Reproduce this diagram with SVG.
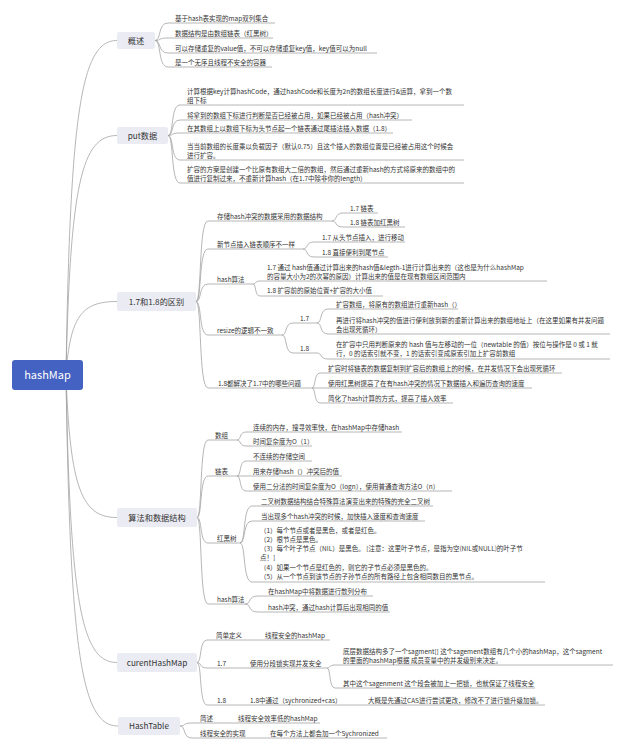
<svg xmlns="http://www.w3.org/2000/svg" width="640" height="751" viewBox="0 0 640 751">
<style>
.c{fill:none;stroke:#a3a3a3;stroke-width:0.8}
.u{stroke:#a3a3a3;stroke-width:0.8}
.t{font-family:"Noto Sans CJK SC","Noto Sans",sans-serif;font-size:6.5px;fill:#333}
.l1b{fill:#ebecf3}
.l1{font-family:"Noto Sans CJK SC","Noto Sans",sans-serif;font-size:8.2px;fill:#333;text-anchor:middle}
.rt{font-family:"Noto Sans CJK SC","Noto Sans",sans-serif;font-size:11px;fill:#fff;text-anchor:middle}
</style>
<rect width="640" height="751" fill="#fff"/>
<g id="connectors">
<path class="c" d="M66 375 C70 107 82 40.5 117 40.5"/>
<path class="c" d="M66 375 C70 183 82 135.5 117 135.5"/>
<path class="c" d="M66 375 C70 316 82 301.5 117 301.5"/>
<path class="c" d="M66 375 C70 489 82 517.5 117 517.5"/>
<path class="c" d="M66 375 C70 605 82 662.5 117 662.5"/>
<path class="c" d="M66 375 C70 656 82 726 118 726"/>
<path class="c" d="M155 40.5 C161.5 40.5 157.6 23 168 23"/>
<path class="c" d="M155 40.5 C161.5 40.5 157.6 38 168 38"/>
<path class="c" d="M155 40.5 C161.5 40.5 157.6 53 168 53"/>
<path class="c" d="M155 40.5 C161.5 40.5 157.6 67 168 67"/>
<path class="c" d="M168 135.5 C174 135.5 170.4 105 180 105"/>
<path class="c" d="M168 135.5 C174 135.5 170.4 120 180 120"/>
<path class="c" d="M168 135.5 C174 135.5 170.4 133 180 133"/>
<path class="c" d="M168 135.5 C174 135.5 170.4 160 180 160"/>
<path class="c" d="M168 135.5 C174 135.5 170.4 183 180 183"/>
<path class="c" d="M196 301.5 C202 301.5 198.4 221 208 221"/>
<path class="c" d="M196 301.5 C202 301.5 198.4 249 208 249"/>
<path class="c" d="M196 301.5 C202 301.5 198.4 284 208 284"/>
<path class="c" d="M196 301.5 C202 301.5 198.4 335 208 335"/>
<path class="c" d="M196 301.5 C202 301.5 198.4 388 208 388"/>
<path class="c" d="M332 221 C337.5 221 334.2 213 343 213"/>
<path class="c" d="M332 221 C337.5 221 334.2 227 343 227"/>
<path class="c" d="M303 249 C308.5 249 305.2 242 314 242"/>
<path class="c" d="M303 249 C308.5 249 305.2 257 314 257"/>
<path class="c" d="M253 284 C256.5 284 254.4 281 260 281"/>
<path class="c" d="M253 284 C256.5 284 254.4 296 260 296"/>
<path class="c" d="M282 335 C287.5 335 284.2 323 293 323"/>
<path class="c" d="M282 335 C287.5 335 284.2 353 293 353"/>
<path class="c" d="M317 323 C322.5 323 319.2 309 328 309"/>
<path class="c" d="M317 323 C322.5 323 319.2 334 328 334"/>
<path class="c" d="M317 353 C322.5 353 319.2 359 328 359"/>
<path class="c" d="M312 388 C316 388 313.6 373 320 373"/>
<path class="c" d="M312 388 L320 388"/>
<path class="c" d="M312 388 C316 388 313.6 403 320 403"/>
<path class="c" d="M197 517.5 C202.5 517.5 199.2 440 208 440"/>
<path class="c" d="M197 517.5 C202.5 517.5 199.2 476 208 476"/>
<path class="c" d="M197 517.5 C202.5 517.5 199.2 543 208 543"/>
<path class="c" d="M197 517.5 C202.5 517.5 199.2 604 208 604"/>
<path class="c" d="M237 440 C241.5 440 238.8 432 246 432"/>
<path class="c" d="M237 440 C241.5 440 238.8 446 246 446"/>
<path class="c" d="M237 476 C241.5 476 238.8 461 246 461"/>
<path class="c" d="M237 476 L246 476"/>
<path class="c" d="M237 476 C241.5 476 238.8 491 246 491"/>
<path class="c" d="M240 543 C246 543 242.4 506 252 506"/>
<path class="c" d="M240 543 C246 543 242.4 521 252 521"/>
<path class="c" d="M240 543 C246 543 242.4 582 252 582"/>
<path class="c" d="M245 604 C251.5 604 247.6 596 258 596"/>
<path class="c" d="M245 604 C251.5 604 247.6 612 258 612"/>
<path class="c" d="M197 662.5 C202 662.5 199 640 207 640"/>
<path class="c" d="M197 662.5 C202 662.5 199 668 207 668"/>
<path class="c" d="M197 662.5 C202 662.5 199 705 207 705"/>
<path class="c" d="M250 640 L258 640"/>
<path class="c" d="M240 668 L244 668"/>
<path class="c" d="M327 668 C331 668 328.6 665 335 665"/>
<path class="c" d="M327 668 C331 668 328.6 688 335 688"/>
<path class="c" d="M240 705 L244 705"/>
<path class="c" d="M358 705 L362 705"/>
<path class="c" d="M180 726 C186 726 182.4 723 192 723"/>
<path class="c" d="M180 726 C186 726 182.4 738 192 738"/>
<path class="c" d="M228 723 L232 723"/>
<path class="c" d="M260 738 L264 738"/>
</g>
<g id="root"><rect x="12" y="360" width="71" height="30" rx="3" fill="#4462c2"/><text class="rt" x="47.5" y="379">hashMap</text></g>
<g id="overview"><rect class="l1b" x="117" y="32" width="38" height="17" rx="2"/><text class="l1" x="136" y="43.5">概述</text></g>
<g id="ov1"><line class="u" x1="168" y1="23" x2="275" y2="23"/><text class="t" x="175" y="21">基于hash表实现的map双列集合</text></g>
<g id="ov2"><line class="u" x1="168" y1="38" x2="273" y2="38"/><text class="t" x="175" y="36">数据结构是由数组链表（红黑树）</text></g>
<g id="ov3"><line class="u" x1="168" y1="53" x2="377" y2="53"/><text class="t" x="175" y="51">可以存储重复的value值，不可以存储重复key值，key值可以为null</text></g>
<g id="ov4"><line class="u" x1="168" y1="67" x2="272" y2="67"/><text class="t" x="175" y="65">是一个无序且线程不安全的容器</text></g>
<g id="put"><rect class="l1b" x="117" y="127" width="51" height="17" rx="2"/><text class="l1" x="142.5" y="138.5">put数据</text></g>
<g id="put1"><line class="u" x1="180" y1="105" x2="464" y2="105"/><text class="t" x="187" y="93.5">计算根据key计算hashCode，通过hashCode和长度为2n的数组长度进行&amp;运算，拿到一个数</text><text class="t" x="187" y="102.5">组下标</text></g>
<g id="put2"><line class="u" x1="180" y1="120" x2="412" y2="120"/><text class="t" x="187" y="117.5">将拿到的数组下标进行判断是否已经被占用，如果已经被占用（hash冲突）</text></g>
<g id="put3"><line class="u" x1="180" y1="133" x2="393" y2="133"/><text class="t" x="187" y="130.5">在其数组上以数组下标为头节点起一个链表通过尾插法插入数据（1.8）</text></g>
<g id="put4"><line class="u" x1="180" y1="160" x2="464" y2="160"/><text class="t" x="187" y="148.5">当当前数组的长度乘以负载因子（默认0.75）且这个插入的数组位置是已经被占用这个时候会</text><text class="t" x="187" y="157.5">进行扩容。</text></g>
<g id="put5"><line class="u" x1="180" y1="183" x2="464" y2="183"/><text class="t" x="187" y="171.5">扩容的方案是创建一个比原有数组大二倍的数组，然后通过重新hash的方式将原来的数组中的</text><text class="t" x="187" y="180.5">值进行复制过来，不重新计算hash（在1.7中除非你的length）</text></g>
<g id="diff"><rect class="l1b" x="117" y="292" width="79" height="19" rx="2"/><text class="l1" x="156.5" y="304.5">1.7和1.8的区别</text></g>
<g id="d1"><line class="u" x1="208" y1="221" x2="332" y2="221"/><text class="t" x="217" y="218.5">存储hash冲突的数据采用的数据结构</text></g>
<g id="d1a"><line class="u" x1="343" y1="213" x2="378" y2="213"/><text class="t" x="350" y="210.5">1.7 链表</text></g>
<g id="d1b"><line class="u" x1="343" y1="227" x2="405" y2="227"/><text class="t" x="350" y="224.5">1.8 链表加红黑树</text></g>
<g id="d2"><line class="u" x1="208" y1="249" x2="303" y2="249"/><text class="t" x="217" y="246.5">新节点插入链表顺序不一样</text></g>
<g id="d2a"><line class="u" x1="314" y1="242" x2="405" y2="242"/><text class="t" x="322" y="239.5">1.7 从头节点插入，进行移动</text></g>
<g id="d2b"><line class="u" x1="314" y1="257" x2="388" y2="257"/><text class="t" x="322" y="254.5">1.8 直接便利到尾节点</text></g>
<g id="d3"><line class="u" x1="208" y1="284" x2="253" y2="284"/><text class="t" x="217" y="281.5">hash算法</text></g>
<g id="d3a"><line class="u" x1="260" y1="281" x2="547" y2="281"/><text class="t" x="267" y="269.5">1.7 通过 hash值通过计算出来的hash值&amp;legth-1进行计算出来的（这也是为什么hashMap</text><text class="t" x="267" y="278.5">的容量大小为2的次幂的原因）计算出来的值是在现有数组区间范围内</text></g>
<g id="d3b"><line class="u" x1="260" y1="296" x2="383" y2="296"/><text class="t" x="267" y="293">1.8 扩容前的原始位置+扩容的大小值</text></g>
<g id="d4"><line class="u" x1="208" y1="335" x2="282" y2="335"/><text class="t" x="217" y="332.5">resize的逻辑不一致</text></g>
<g id="d4a"><line class="u" x1="293" y1="323" x2="317" y2="323"/><text class="t" x="300" y="320.5">1.7</text></g>
<g id="d4a1"><line class="u" x1="328" y1="309" x2="458" y2="309"/><text class="t" x="336" y="306.5">扩容数组，将原有的数组进行重新hash（）</text></g>
<g id="d4a2"><line class="u" x1="328" y1="334" x2="610" y2="334"/><text class="t" x="336" y="322.5">再进行将hash冲突的值进行便利放到新的重新计算出来的数组地址上（在这里如果有并发问题</text><text class="t" x="336" y="331.5">会出现死循环）</text></g>
<g id="d4b"><line class="u" x1="293" y1="353" x2="317" y2="353"/><text class="t" x="300" y="350.5">1.8</text></g>
<g id="d4b1"><line class="u" x1="328" y1="359" x2="610" y2="359"/><text class="t" x="336" y="347">在扩容中只用判断原来的 hash 值与左移动的一位（newtable 的值）按位与操作是 0 或 1 就</text><text class="t" x="336" y="356">行，0 的话索引就不变，1 的话索引变成原索引加上扩容前数组</text></g>
<g id="d5"><line class="u" x1="208" y1="388" x2="312" y2="388"/><text class="t" x="218" y="385.5">1.8都解决了1.7中的哪些问题</text></g>
<g id="d5a"><line class="u" x1="320" y1="373" x2="562" y2="373"/><text class="t" x="328" y="370.5">扩容时将链表的数据复制到扩容后的数组上的时候，在并发情况下会出现死循环</text></g>
<g id="d5b"><line class="u" x1="320" y1="388" x2="532" y2="388"/><text class="t" x="328" y="385.5">使用红黑树提高了在有hash冲突的情况下数据插入和遍历查询的速度</text></g>
<g id="d5c"><line class="u" x1="320" y1="403" x2="453" y2="403"/><text class="t" x="328" y="400.5">简化了hash计算的方式，提高了插入效率</text></g>
<g id="algo"><rect class="l1b" x="117" y="508" width="80" height="19" rx="2"/><text class="l1" x="157" y="520.5">算法和数据结构</text></g>
<g id="a1"><line class="u" x1="208" y1="440" x2="237" y2="440"/><text class="t" x="215" y="437.5">数组</text></g>
<g id="a1a"><line class="u" x1="246" y1="432" x2="402" y2="432"/><text class="t" x="253" y="429.5">连续的内存，搜寻效率快，在hashMap中存储hash</text></g>
<g id="a1b"><line class="u" x1="246" y1="446" x2="312" y2="446"/><text class="t" x="253" y="443.5">时间复杂度为O（1）</text></g>
<g id="a2"><line class="u" x1="208" y1="476" x2="237" y2="476"/><text class="t" x="215" y="473.5">链表</text></g>
<g id="a2a"><line class="u" x1="246" y1="461" x2="312" y2="461"/><text class="t" x="253" y="458.5">不连续的存储空间</text></g>
<g id="a2b"><line class="u" x1="246" y1="476" x2="342" y2="476"/><text class="t" x="253" y="473.5">用来存储hash（）冲突后的值</text></g>
<g id="a2c"><line class="u" x1="246" y1="491" x2="452" y2="491"/><text class="t" x="253" y="488.5">使用二分法的时间复杂度为O（logn），使用普通查询方法O（n）</text></g>
<g id="a3"><line class="u" x1="208" y1="543" x2="240" y2="543"/><text class="t" x="217" y="540.5">红黑树</text></g>
<g id="a3a"><line class="u" x1="252" y1="506" x2="433" y2="506"/><text class="t" x="261" y="503.5">二叉树数据结构结合特殊算法演变出来的特殊的完全二叉树</text></g>
<g id="a3b"><line class="u" x1="252" y1="521" x2="425" y2="521"/><text class="t" x="261" y="518.5">当出现多个hash冲突的时候，加快插入速度和查询速度</text></g>
<g id="a3c"><line class="u" x1="252" y1="582" x2="545" y2="582"/>
<text class="t" x="260" y="532.5">（1）每个节点或者是黑色，或者是红色。</text>
<text class="t" x="260" y="541.8">（2）根节点是黑色。</text>
<text class="t" x="260" y="551.1">（3）每个叶子节点（NIL）是黑色。 [注意：这里叶子节点，是指为空(NIL或NULL)的叶子节</text>
<text class="t" x="260" y="560.4">点！]</text>
<text class="t" x="260" y="569.7">（4）如果一个节点是红色的，则它的子节点必须是黑色的。</text>
<text class="t" x="260" y="579">（5）从一个节点到该节点的子孙节点的所有路径上包含相同数目的黑节点。</text></g>
<g id="a4"><line class="u" x1="208" y1="604" x2="245" y2="604"/><text class="t" x="217" y="601.5">hash算法</text></g>
<g id="a4a"><line class="u" x1="258" y1="596" x2="373" y2="596"/><text class="t" x="268" y="593.5">在hashMap中将数据进行散列分布</text></g>
<g id="a4b"><line class="u" x1="258" y1="612" x2="390" y2="612"/><text class="t" x="268" y="609.5">hash冲突，通过hash计算后出现相同的值</text></g>
<g id="chm"><rect class="l1b" x="117" y="653" width="80" height="19" rx="2"/><text class="l1" x="157" y="665.5">curentHashMap</text></g>
<g id="c1"><line class="u" x1="207" y1="640" x2="250" y2="640"/><text class="t" x="216" y="637.5">简单定义</text></g>
<g id="c1a"><line class="u" x1="258" y1="640" x2="330" y2="640"/><text class="t" x="265" y="637.5">线程安全的hashMap</text></g>
<g id="c2"><line class="u" x1="207" y1="668" x2="240" y2="668"/><text class="t" x="217" y="665.5">1.7</text></g>
<g id="c2a"><line class="u" x1="244" y1="668" x2="327" y2="668"/><text class="t" x="250" y="665.5">使用分段锁实现并发安全</text></g>
<g id="c2a1"><line class="u" x1="335" y1="665" x2="613" y2="665"/><text class="t" x="343" y="654">底层数据结构多了一个sagment[] 这个sagement数组有几个小的hashMap，这个sagment</text><text class="t" x="343" y="663">的里面的hashMap根据 成员变量中的并发级别来决定。</text></g>
<g id="c2a2"><line class="u" x1="335" y1="688" x2="535" y2="688"/><text class="t" x="343" y="685.5">其中这个sagenment 这个段会被加上一把锁，也就保证了线程安全</text></g>
<g id="c3"><line class="u" x1="207" y1="705" x2="240" y2="705"/><text class="t" x="217" y="702.5">1.8</text></g>
<g id="c3a"><line class="u" x1="244" y1="705" x2="358" y2="705"/><text class="t" x="250" y="702.5">1.8中通过（sychronized+cas）</text></g>
<g id="c3a1"><line class="u" x1="362" y1="705" x2="545" y2="705"/><text class="t" x="368" y="702.5">大概是先通过CAS进行尝试更改，修改不了进行锁升级加锁。</text></g>
<g id="ht"><rect class="l1b" x="118" y="717" width="62" height="18" rx="2"/><text class="l1" x="149" y="729">HashTable</text></g>
<g id="h1"><line class="u" x1="192" y1="723" x2="228" y2="723"/><text class="t" x="200" y="720.5">简述</text></g>
<g id="h1a"><line class="u" x1="232" y1="723" x2="320" y2="723"/><text class="t" x="238" y="720.5">线程安全效率低的hashMap</text></g>
<g id="h2"><line class="u" x1="192" y1="738" x2="260" y2="738"/><text class="t" x="200" y="735.5">线程安全的实现</text></g>
<g id="h2a"><line class="u" x1="264" y1="738" x2="387" y2="738"/><text class="t" x="270" y="735.5">在每个方法上都会加一个Sychronized</text></g>
</svg>
